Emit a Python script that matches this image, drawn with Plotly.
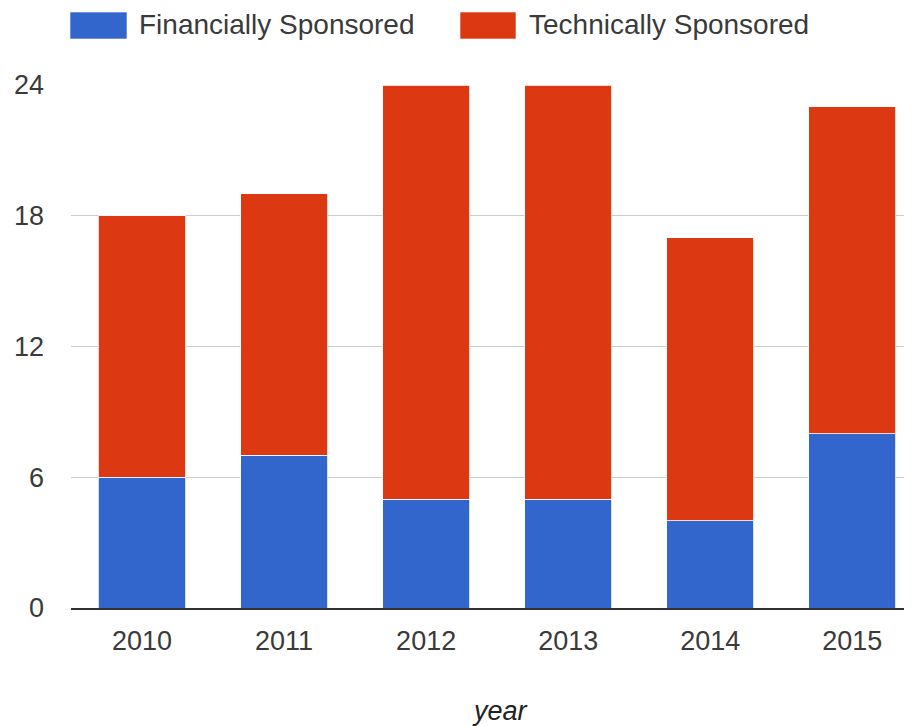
import plotly.graph_objects as go

years = ["2010", "2011", "2012", "2013", "2014", "2015"]
financially = [6, 7, 5, 5, 4, 8]
technically = [12, 12, 19, 19, 13, 15]
series_names = ["Financially Sponsored", "Technically Sponsored"]
colors = ["#3366CC", "#DC3912"]
y_ticks = [0, 6, 12, 18, 24]

OFF = 8  # page body margin
W, H = 912 - OFF, 726 - OFF
L, R, T, B = 71 - OFF, 0, 85 - OFF, 118
pw, ph = W - L - R, H - T - B

def px_x(x):
    return (x - OFF - L) / pw

def px_y(y):
    return (H - B - (y - OFF)) / ph

fig = go.Figure()
for name, vals, col in zip(series_names, [financially, technically], colors):
    fig.add_trace(go.Bar(
        x=years, y=vals, name=name,
        marker=dict(color=col, line=dict(color="rgba(255,255,255,0.8)", width=1)),
        showlegend=False,
    ))

font_family = "Arial, 'Liberation Sans', sans-serif"
text_col = "#3a3a3a"

shapes = []
annotations = []
legend_items = [(70, 127, 137), (460, 516, 527)]
for (x0, x1, tx), name, col in zip(legend_items, series_names, colors):
    shapes.append(dict(type="rect", xref="paper", yref="paper",
                       x0=px_x(x0), x1=px_x(x1), y0=px_y(39), y1=px_y(12),
                       fillcolor=col, line=dict(color="rgba(255,255,255,0.6)", width=1)))
    annotations.append(dict(xref="paper", yref="paper", x=px_x(tx), y=px_y(25),
                            xanchor="left", yanchor="middle", showarrow=False,
                            text=name, font=dict(size=28, color=text_col, family=font_family)))

annotations.append(dict(xref="paper", yref="paper", x=px_x(500), y=px_y(711),
                        xanchor="center", yanchor="middle", showarrow=False,
                        text="<i>year</i>", font=dict(size=27, color="#222222", family=font_family)))

fig.update_layout(
    width=W, height=H,
    margin=dict(l=L, r=R, t=T, b=B),
    barmode="stack", bargap=0.387,
    plot_bgcolor="white", paper_bgcolor="white",
    font=dict(family=font_family, size=27, color=text_col),
    shapes=shapes, annotations=annotations,
    xaxis=dict(range=[-0.5, 5.42], showgrid=False, showline=True, linecolor="#333333",
               linewidth=1.5, ticks="", ticklabelstandoff=8,
               tickfont=dict(size=27, color=text_col)),
    yaxis=dict(range=[0, 24], tickvals=y_ticks, showgrid=True, gridcolor="#cccccc",
               gridwidth=1, zeroline=False, showline=False, ticks="",
               ticklabelstandoff=26, tickfont=dict(size=27, color=text_col)),
)

fig.write_html("out.html")
